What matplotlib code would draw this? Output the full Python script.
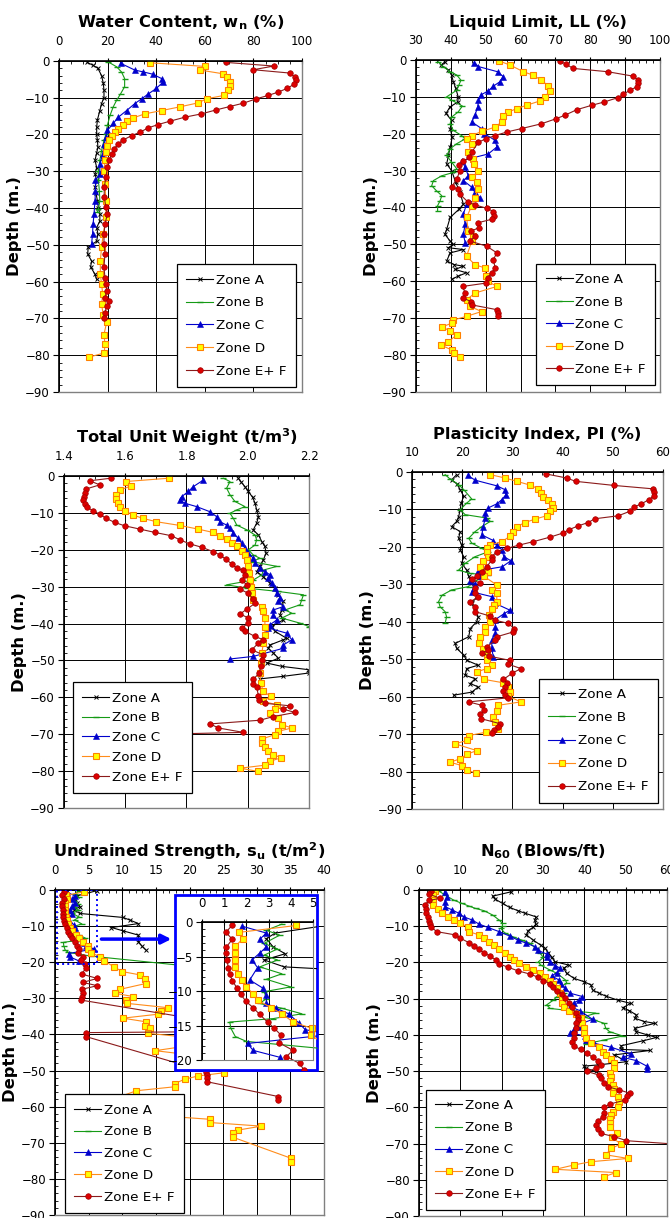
import matplotlib
matplotlib.use('Agg')
import matplotlib.pyplot as plt
from matplotlib.patches import Rectangle
from matplotlib.ticker import MultipleLocator, FormatStrFormatter

plt.rcParams['font.family'] = ['DejaVu Sans']
plt.rcParams['mathtext.fontset'] = 'dejavusans'

zones = ['Zone A', 'Zone B', 'Zone C', 'Zone D', 'Zone E+ F']

# ---- water content (depth, value) ----
wc_a = [(-0.4, 11.6), (-1.2, 14), (-2, 16), (-4, 17.5), (-6, 18.2), (-8, 18.5), (-10, 18.5), (-11.6, 17.5),
        (-13.5, 16.8), (-16, 15.8), (-18, 15.5), (-20, 15.5), (-21.6, 15.8), (-23.5, 16), (-25, 15.5),
        (-27, 14.8), (-29, 15.5), (-30.7, 14.8), (-32.5, 15.5), (-34.4, 14.8), (-36, 15.2), (-38, 15.8),
        (-40, 16.2), (-41.6, 16.8), (-43.5, 16.8), (-45.3, 15.5), (-47, 16), (-49, 15.5), (-50.7, 12),
        (-52.5, 11.8), (-54.4, 13.4), (-56, 13), (-58, 14.8), (-59.4, 15.5)]
wc_b = [(-0.3, 20.3), (-1.6, 23.7), (-3, 25.7), (-4.8, 27), (-7, 27), (-9, 25.3), (-10.7, 23.7), (-12.5, 22.3),
        (-14.8, 21), (-17.5, 19.9), (-20, 19.3), (-21.6, 18.5), (-24.4, 17.5), (-27, 16.8), (-29.8, 16.2),
        (-32.5, 16.2), (-35.3, 16.6), (-38, 16.8), (-40.3, 16.2), (-41, 15.8)]
wc_c = [(-0.7, 25.5), (-2.5, 31.2), (-3, 34.7), (-3.6, 38.5), (-4.8, 42.2), (-5.7, 42.9), (-7.5, 40), (-9, 36.7),
        (-10.3, 34), (-11.6, 31.2), (-13.5, 27.8), (-15.3, 24.4), (-17, 22.3), (-18.9, 19.9), (-20.7, 19.3),
        (-22.5, 18.6), (-25.3, 18), (-28, 16.8), (-30.7, 16.8), (-32.5, 15), (-35.3, 15), (-38, 14.8),
        (-41.6, 14.4), (-44.4, 14), (-47, 13.8), (-49.8, 13.4)]
wc_d = [(-0.5, 37.4), (-1.5, 60), (-2.5, 58), (-3.5, 67.5), (-4.5, 69), (-5.7, 70.5), (-6.9, 70.3), (-8, 69.6),
        (-9.4, 67.8), (-10.3, 60.7), (-11.4, 57.3), (-12.5, 49.7), (-13.5, 42.2), (-14.4, 35.3), (-15.5, 30.5),
        (-16.4, 27.8), (-17.5, 26.4), (-18.5, 24.4), (-19.4, 23), (-20.3, 21.9), (-21.6, 20.7), (-23, 19.9),
        (-24.8, 19.3), (-27, 18.9), (-29.8, 18.6), (-33.5, 18.9), (-38, 19.3), (-42.5, 19.3), (-47, 18.2),
        (-50.7, 17.5), (-54.4, 17), (-58, 17), (-60.7, 17.5), (-63.4, 18), (-66.2, 17.5), (-69, 18.2),
        (-71, 19.6), (-74.4, 18.5), (-77, 18.9), (-79.4, 18.6), (-80.5, 12.5)]
wc_ef = [(-0.4, 68.6), (-1.4, 88.4), (-2.4, 79.9), (-3.3, 94.9), (-4.4, 97), (-5.3, 97.7), (-6.4, 96.6),
         (-7.5, 93.8), (-8.5, 90.1), (-9.4, 86), (-10.3, 81.2), (-11.5, 75.8), (-12.4, 70.3), (-13.3, 64.8),
         (-14.4, 58.6), (-15.3, 51.8), (-16.4, 45.6), (-17.3, 40.8), (-18.2, 36.7), (-19.4, 33.3), (-20.3, 29.9),
         (-21.5, 26.4), (-22.5, 24.4), (-23.9, 22.7), (-25.3, 21.6), (-27, 20.7), (-28.9, 19.9), (-31.6, 19.3),
         (-34.4, 18.6), (-37, 18.6), (-39.8, 19.3), (-41.6, 19.9), (-44.4, 18.9), (-47, 18.5), (-49.8, 18.5),
         (-52.5, 18.9), (-56, 18.5), (-59, 18.9), (-60.7, 19.3), (-62.5, 19.6), (-64.4, 18.9), (-65.3, 20.7),
         (-66.6, 19.6), (-68.5, 18.9), (-69.8, 18.6)]

# ---- liquid limit ----
ll_a = [(-0.5, 38.3), (-1.4, 37.2), (-2.7, 39.3), (-4.1, 40.2), (-5.9, 40.7), (-7.7, 41.4), (-10, 42.1),
        (-11.4, 42), (-12.7, 39.8), (-14.5, 38.6), (-16.4, 40.2), (-18.6, 39.8), (-20.9, 40.4), (-23.6, 39.8),
        (-25.9, 39.3), (-28.2, 38.8), (-30, 40.2), (-33.2, 41.4), (-35.9, 42.6), (-39.1, 43.6), (-40.5, 42.3),
        (-42.7, 39.8), (-45.9, 38.8), (-47.3, 38.3), (-49.1, 39.8), (-50, 40.7), (-50.9, 39.3), (-51.4, 43.6),
        (-52.3, 39.8), (-54.5, 38.8), (-55.5, 41), (-55.9, 43.6), (-56.8, 41.2), (-57.7, 44.5), (-58.6, 42.1),
        (-59.5, 40.2)]
ll_b = [(-0.5, 36.4), (-1.8, 37.8), (-3.2, 39.8), (-4.1, 41.7), (-5.5, 42.9), (-6.8, 42.3), (-8.2, 41.7),
        (-10, 38.8), (-10.9, 40.2), (-12.5, 43.3), (-14.1, 42.1), (-15.5, 40.2), (-17.3, 39.8), (-19.1, 40.7),
        (-20.5, 43.1), (-21.4, 44.1), (-22.7, 41.7), (-24.1, 39.8), (-25.9, 38.8), (-27.7, 40.2), (-29.5, 41.7),
        (-30.5, 40.7), (-31.4, 37.4), (-32.7, 35), (-34.1, 34.5), (-35.5, 35.9), (-36.8, 37.4), (-38.2, 36.9),
        (-39.5, 36.2), (-40.9, 36.2)]
ll_c = [(-0.7, 46.7), (-1.8, 47.9), (-3.2, 53.4), (-4.5, 55), (-5.9, 54.1), (-7.1, 52.2), (-8.4, 50.7),
        (-9.5, 48.6), (-10.9, 47.9), (-12.7, 47.7), (-15, 46.9), (-16.8, 46), (-18.6, 48.8), (-20, 49.6),
        (-21.8, 52.7), (-23.6, 53.2), (-25.5, 50.7), (-27.3, 43.1), (-29.1, 44.1), (-31.4, 45), (-32.7, 43.6),
        (-34.5, 46), (-35.9, 46.9), (-37.3, 48.4), (-39.1, 44.5), (-41.8, 43.6), (-44.5, 44.1), (-47.3, 43.6),
        (-49.5, 44.1)]
ll_d = [(-0.3, 53.9), (-1.4, 57), (-3.2, 60.8), (-4.1, 63.5), (-5.5, 66), (-7.1, 68), (-8.4, 68.4), (-10, 67),
        (-11.1, 65.6), (-12.3, 61.7), (-13.2, 58.9), (-14.1, 56.5), (-15.3, 55), (-16.8, 54.6), (-18.2, 52.7),
        (-19.4, 48.8), (-20.5, 46), (-21.4, 44.5), (-22.7, 46), (-25, 45), (-26.8, 46.4), (-28.2, 46.7),
        (-30.2, 47.9), (-31.8, 46), (-33.2, 47.4), (-35, 47.9), (-37.3, 46.9), (-39.5, 46), (-42.7, 44.5),
        (-46.4, 45), (-47.7, 46.4), (-49.1, 46), (-53.2, 44.5), (-55.5, 46.9), (-56.4, 49.8), (-58.6, 50),
        (-60, 50.6), (-61.4, 53.2), (-63.2, 46.9), (-65, 44.5), (-66.8, 45.5), (-68.2, 48.8), (-69.5, 44.5),
        (-70.5, 40.7), (-71.4, 40.2), (-72.3, 37.6), (-73.6, 39.8), (-74.5, 41.7), (-76.4, 39.3), (-77.3, 37.2),
        (-78.6, 40.2), (-79.5, 41), (-80.5, 42.7)]
ll_ef = [(-0.3, 71.3), (-1.1, 72.9), (-2.3, 75.1), (-3.2, 85), (-4.4, 92.3), (-5.5, 93.8), (-6.2, 93.8),
         (-7.3, 93.3), (-8.2, 91.4), (-9.3, 89.5), (-10.2, 88), (-11.4, 84), (-12.3, 80.4), (-13.5, 76.1),
         (-15, 72.7), (-15.9, 70.3), (-17.3, 66), (-18.6, 60.3), (-19.5, 56.2), (-20.5, 52.7), (-21.4, 50),
         (-22.3, 47.9), (-25, 46), (-26.4, 45.3), (-27.5, 43.6), (-28.5, 42.3), (-30, 42.6), (-32.3, 41.7),
         (-34.4, 40.2), (-35, 42.1), (-36.4, 42.6), (-38.6, 45), (-39.3, 46.9), (-40.2, 50.3), (-41.1, 52.2),
         (-42.3, 52.5), (-43.2, 51.7), (-44.1, 47.9), (-45.5, 48), (-46.4, 45.8), (-47.7, 46.9), (-49.1, 45.5),
         (-50.5, 50.3), (-52.3, 53.2), (-54.1, 52.2), (-56.4, 52.7), (-57.7, 51.7), (-59.1, 50.6), (-60.5, 50),
         (-61.4, 43.4), (-63.2, 44.1), (-64.5, 43.4), (-65.5, 45.8), (-66.4, 46), (-67.7, 53.2), (-68.6, 53.6),
         (-69.5, 53.6)]

# ---- total unit weight ----
uw_a = [(-0.6, 1.969), (-1.5, 1.977), (-2.9, 1.991), (-4.2, 2.002), (-5.8, 2.016), (-7.4, 2.024), (-9.2, 2.029),
        (-11, 2.035), (-12.8, 2.029), (-14.6, 2.018), (-16, 2.035), (-17.8, 2.046), (-19.1, 2.056), (-20.9, 2.06),
        (-22.7, 2.051), (-24.5, 2.04), (-25.9, 2.029), (-27.3, 2.051), (-29.1, 2.073), (-30.4, 2.089),
        (-32.2, 2.1), (-34, 2.116), (-36.3, 2.111), (-37.6, 2.105), (-39, 2.116), (-40.8, 2.078), (-42.1, 2.089),
        (-44, 2.127), (-44.4, 2.116), (-45.8, 2.073), (-46.7, 2.067), (-48, 2.084), (-49.4, 2.1), (-50.7, 2.062),
        (-51.6, 2.111), (-52.5, 2.198), (-53.4, 2.2), (-54.3, 2.116), (-55, 2.04)]
uw_b = [(-0.6, 1.92), (-1.5, 1.942), (-3.3, 1.931), (-5.1, 1.942), (-6.9, 1.958), (-8.3, 1.991), (-9.2, 1.964),
        (-10.1, 1.942), (-11.5, 1.953), (-13.3, 1.964), (-14.6, 1.997), (-16, 2.024), (-17.3, 2.029),
        (-18.7, 2.024), (-20, 2.002), (-21.4, 2.018), (-22.3, 2.04), (-23.2, 2.013), (-24.5, 2.095),
        (-25.5, 2.051), (-26.8, 2.046), (-28.2, 2.018), (-29.5, 1.931), (-30.4, 1.997), (-31.3, 2.1),
        (-32.2, 2.182), (-33.6, 2.176), (-34.9, 2.171), (-36.3, 2.122), (-37.2, 2.144), (-38.5, 2.111),
        (-39.9, 2.171), (-40.8, 2.2)]
uw_c = [(-1.1, 1.855), (-2.9, 1.822), (-4.2, 1.806), (-5.6, 1.784), (-6.5, 1.778), (-7.4, 1.795), (-8.3, 1.833),
        (-9.7, 1.877), (-11, 1.898), (-12.4, 1.909), (-13.3, 1.931), (-14.2, 1.942), (-15.5, 1.953),
        (-16.9, 1.969), (-18.2, 1.98), (-19.6, 1.991), (-20.9, 2.002), (-22.3, 2.018), (-23.6, 2.024),
        (-25, 2.04), (-25.9, 2.056), (-26.8, 2.073), (-27.7, 2.067), (-29.1, 2.078), (-30.4, 2.089),
        (-31.8, 2.095), (-33.1, 2.106), (-34, 2.1), (-35.4, 2.116), (-36.3, 2.084), (-37.6, 2.084), (-39, 2.095),
        (-40.3, 2.073), (-41.2, 2.067), (-42.6, 2.127), (-44.4, 2.144), (-45.8, 2.116), (-46.7, 2.116),
        (-48.9, 2.018), (-49.6, 1.942)]
uw_d = [(-0.6, 1.743), (-1.5, 1.602), (-2.7, 1.62), (-3.8, 1.582), (-5.1, 1.571), (-6.3, 1.571), (-7.4, 1.576),
        (-8.5, 1.584), (-9.4, 1.598), (-10.6, 1.626), (-11.5, 1.658), (-12.4, 1.702), (-13.4, 1.778),
        (-14.4, 1.838), (-15.3, 1.887), (-16.2, 1.909), (-17.1, 1.931), (-18.1, 1.947), (-19.1, 1.966),
        (-20.2, 1.98), (-21.4, 1.991), (-22.7, 1.997), (-24.5, 2.002), (-26.4, 2.005), (-28.2, 2.007), (-30, 2.01),
        (-31.8, 2.013), (-33.6, 2.018), (-35.4, 2.046), (-36.7, 2.051), (-38.5, 2.056), (-40.8, 2.056),
        (-43, 2.056), (-45.3, 2.051), (-48, 2.046), (-50.7, 2.042), (-53.4, 2.04), (-56.1, 2.042), (-58.4, 2.051),
        (-59.7, 2.075), (-61.1, 2.051), (-62, 2.095), (-63.2, 2.089), (-64.3, 2.073), (-65.6, 2.1), (-67.4, 2.111),
        (-68.3, 2.144), (-69.2, 2.1), (-70.1, 2.089), (-71.3, 2.046), (-72.4, 2.046), (-73.5, 2.056),
        (-74.6, 2.067), (-75.5, 2.084), (-76.4, 2.109), (-77.3, 2.073), (-78.4, 2.056), (-79.2, 1.975),
        (-80.1, 2.035)]
uw_ef = [(-0.6, 1.553), (-1.3, 1.484), (-2.4, 1.517), (-3.5, 1.473), (-4.7, 1.468), (-5.8, 1.464), (-6.5, 1.462),
         (-7.6, 1.468), (-8.5, 1.475), (-9.4, 1.495), (-10.4, 1.517), (-11.5, 1.538), (-12.6, 1.566),
         (-13.5, 1.598), (-14.4, 1.648), (-15.3, 1.697), (-16.2, 1.751), (-17.3, 1.778), (-18.4, 1.811),
         (-19.3, 1.849), (-20.5, 1.887), (-21.4, 1.909), (-22.6, 1.929), (-23.8, 1.947), (-25, 1.964),
         (-25.6, 1.986), (-26.8, 1.991), (-28.2, 1.98), (-29.5, 1.997), (-30.7, 1.975), (-31.8, 2.002),
         (-33.4, 2.018), (-34.5, 2.024), (-36.1, 1.997), (-37.4, 1.975), (-38.5, 2.002), (-39.9, 2.002),
         (-41.2, 1.98), (-42.1, 1.991), (-43.5, 2.024), (-44.4, 2.051), (-45.3, 2.035), (-47.1, 2.013),
         (-48.5, 2.051), (-50, 2.046), (-51.6, 2.042), (-53.4, 2.038), (-55.1, 2.018), (-56.3, 2.018),
         (-57.2, 2.029), (-59.6, 2.035), (-60.6, 2.038), (-61.6, 2.056), (-62.3, 2.138), (-63.2, 2.116),
         (-64.1, 2.155), (-65.2, 2.084), (-66.2, 2.04), (-67.2, 1.877), (-68.3, 1.904), (-69.5, 1.986),
         (-70.4, 1.5)]

# ---- plasticity index ----
pi_a = [(-0.7, 18.9), (-2.1, 17.9), (-3.1, 18.9), (-4.7, 19.6), (-6.5, 20.3), (-8.3, 19.8), (-10.1, 19.6),
        (-11.9, 19.3), (-13.2, 18.9), (-14.6, 17.9), (-15.9, 19.6), (-17.7, 19.3), (-19.5, 19.9), (-20.8, 19.6),
        (-22.6, 20.3), (-24.4, 19.9), (-26.2, 20.9), (-27.9, 21.3), (-29.7, 21.9), (-31.5, 22.6), (-33.3, 22.9),
        (-35.1, 21.9), (-36.9, 22.6), (-38.7, 23.2), (-40, 22.9), (-41.8, 21.6), (-44, 21.3), (-45.8, 18.6),
        (-47.1, 18.9), (-48.9, 20.3), (-50.3, 20.9), (-51.6, 23.2), (-52.5, 20.9), (-54.3, 20.6), (-55.2, 22.6),
        (-56.5, 21.6), (-57.4, 23.2), (-58.8, 21.9), (-59.6, 18.3)]
pi_b = [(-0.7, 16.6), (-1.9, 17.6), (-3.4, 19.3), (-4.7, 20.3), (-7.2, 21.9), (-8.3, 20.9), (-10.1, 19.6),
        (-11.4, 20.6), (-12.3, 24.9), (-13.2, 25.6), (-14.6, 23.9), (-15.9, 22.6), (-17.7, 21.3), (-19, 21.9),
        (-20.4, 23.9), (-21.3, 25.2), (-22.6, 22.6), (-24.4, 20.6), (-26.2, 19.3), (-27.1, 21.6), (-27.5, 25.2),
        (-28.4, 23.9), (-29.7, 21.6), (-30.6, 21.3), (-31.5, 17.9), (-32.9, 16), (-34.6, 15.3), (-36, 15.6),
        (-37.3, 16.6), (-38.7, 16.9), (-40.4, 16.6)]
pi_c = [(-0.9, 21.1), (-2.2, 22.6), (-3.7, 26.9), (-4.7, 28.5), (-6.1, 28.7), (-7.4, 27.9), (-8.5, 26.9),
        (-9.6, 25.2), (-11, 24.6), (-12.3, 24.6), (-14.6, 24.2), (-16.8, 23.9), (-18.3, 26.2), (-19.5, 26.9),
        (-20.8, 27.9), (-22.6, 28.3), (-23.7, 29.7), (-25.3, 28), (-26.4, 23.2), (-27.9, 23.6), (-29, 21.6),
        (-29.9, 22.6), (-32, 21.9), (-33.3, 25.9), (-35.1, 26.6), (-36.9, 29.5), (-37.8, 28.4), (-39.4, 26.6),
        (-41.3, 26.6), (-43.1, 26.6), (-44.9, 25.9), (-47.1, 25.9), (-49.4, 26.2)]
pi_d = [(-0.7, 25.6), (-1.6, 28.5), (-2.5, 30.9), (-3.5, 33.5), (-4.5, 35.2), (-5.6, 35.8), (-6.7, 36.2),
        (-7.6, 37), (-8.5, 37.8), (-9.6, 38), (-10.5, 37.5), (-11.7, 36.8), (-12.6, 34.5), (-13.5, 32.5),
        (-14.6, 30.9), (-15.9, 30.2), (-17.2, 29.5), (-18.6, 27.9), (-19.5, 25.6), (-20.4, 24.9), (-21.5, 24.9),
        (-22.6, 25.2), (-23.9, 24.2), (-25.3, 23.6), (-26.6, 25.2), (-27.9, 24.4), (-30.2, 26.9), (-31.5, 25.9),
        (-32.4, 26.9), (-34.6, 26.9), (-35.5, 26.4), (-36.7, 25.9), (-38.2, 25.4), (-40, 25.6), (-41.3, 24.6),
        (-42.7, 24.6), (-44, 23.6), (-45.8, 23.4), (-47.4, 24.2), (-48.9, 24.9), (-50.3, 24.9), (-51.6, 26),
        (-52.5, 24.9), (-53.4, 22.9), (-55.4, 24.4), (-56.3, 28.2), (-57.4, 29.2), (-58.8, 29.5), (-59.9, 29.2),
        (-61.4, 31.7), (-62.3, 27.2), (-63.7, 26.9), (-65.3, 26.2), (-66.8, 26.6), (-68.6, 27.2), (-69.5, 24.7),
        (-70.4, 21.3), (-71.7, 20.9), (-72.6, 18.6), (-74.4, 22.9), (-75.4, 20.9), (-76.6, 19.6), (-77.5, 17.6),
        (-78.4, 19.9), (-79.6, 20.9), (-80.4, 22.7)]
pi_ef = [(-0.5, 36.6), (-1.6, 40.8), (-2.5, 42.6), (-3.6, 50.3), (-4.5, 58), (-5.4, 58.2), (-6.3, 58.2),
         (-7.4, 57.2), (-8.5, 55.7), (-9.4, 54.2), (-10.5, 53.4), (-11.7, 51.1), (-12.5, 46.4), (-13.5, 45.1),
         (-14.4, 43.1), (-15.4, 41.3), (-16.3, 40.1), (-17.4, 37.5), (-18.6, 34.2), (-19.5, 31.4), (-20.4, 28.9),
         (-21.3, 26.9), (-22.6, 25.9), (-23.5, 25.9), (-25.3, 24.9), (-26.6, 23.9), (-27.8, 22.9), (-28.7, 21.9),
         (-29.7, 23.6), (-31.1, 22.6), (-32.4, 22.5), (-33.5, 23.2), (-34.6, 21.6), (-36, 22.6), (-37.3, 22.6),
         (-38.5, 25.6), (-39.6, 26.6), (-40.4, 29.1), (-41.8, 30.4), (-42.7, 30.2), (-44, 26.9), (-44.9, 26.6),
         (-46.7, 24.9), (-47.6, 25.2), (-48.3, 23.9), (-49.2, 25.4), (-50.3, 29.5), (-51.3, 29.1), (-52.5, 31.7),
         (-53.8, 29.9), (-55.4, 28.2), (-56.3, 28.9), (-57.4, 28.5), (-58.5, 28.2), (-59.6, 28.5), (-60.3, 29.2),
         (-61.4, 21.3), (-62.3, 23.9), (-63.5, 24.4), (-64.6, 23.6), (-65.9, 23.8), (-67.2, 27.5), (-68.1, 27.2),
         (-69, 26.4), (-69.7, 25.9)]

# ---- undrained strength ----
su_a = [(-0.2, 6.2), (-1.6, 3.3), (-2.4, 2.9), (-3.6, 3.2), (-4.6, 3.75), (-5.5, 2.8), (-6.5, 3.7), (-7.6, 10.1),
        (-8.3, 11.1), (-9.3, 12.4), (-10.4, 8.4), (-11.3, 10.1), (-12.5, 12.4), (-14.3, 12.4), (-15.5, 12.9),
        (-16.6, 13.5)]
su_b = [(-0.3, 3.6), (-1.2, 2.9), (-1.9, 3.5), (-3.1, 2.8), (-3.9, 3.4), (-4.8, 2.8), (-5.5, 3.4), (-6.5, 2.6),
        (-7.5, 3.6), (-8.3, 2.9), (-9.4, 4.0), (-10.1, 2.8), (-11.1, 2.9), (-11.8, 2.6), (-12.5, 3.6),
        (-13.3, 4.5), (-14, 3.2), (-14.5, 1.25), (-15.4, 1.3), (-16.6, 1.5), (-17.3, 2.0), (-18.3, 5.3),
        (-21.5, 22)]
su_c = [(-0.6, 1.8), (-1.6, 2.9), (-2.5, 2.6), (-3.6, 2.9), (-4.5, 2.6), (-5.5, 2.25), (-6.6, 2.5), (-8.4, 2.15),
        (-9.6, 2.75), (-10.6, 2.9), (-11.8, 2.9), (-12.5, 3.35), (-13.3, 3.9), (-14.6, 4.35), (-15.6, 4.65),
        (-16.3, 5.8), (-17.6, 2.05), (-18.6, 2.3), (-19.6, 3.5)]
su_d = [(-0.5, 4.25), (-1.5, 1.66), (-2.4, 1.85), (-3.5, 1.5), (-4.5, 1.5), (-5.5, 1.5), (-6.5, 1.5), (-7.5, 1.6),
        (-8.4, 1.8), (-9.4, 2.0), (-10.4, 2.3), (-11.3, 2.5), (-12.4, 3.1), (-13.3, 3.6), (-14.5, 4.1),
        (-15.4, 4.95), (-16.4, 4.9), (-17.4, 5.4), (-18.5, 6.7), (-19.6, 7.3), (-21.2, 8.7), (-22.6, 10),
        (-23.5, 12.6), (-24.7, 13.4), (-25.9, 13.5), (-27.5, 9.7), (-28.6, 8.9), (-29.5, 11.6), (-30.5, 10.6),
        (-31.4, 10.7), (-32.6, 16.8), (-33.4, 15.8), (-34.4, 15.3), (-35.5, 10.1), (-36.5, 13.5), (-37.7, 13.4),
        (-38.3, 14.1), (-39.7, 13.9), (-40.6, 18.6), (-42, 24), (-44.5, 14.9), (-47, 26), (-50.6, 25.2),
        (-51.5, 21.3), (-52.4, 19.3), (-53.6, 17.8), (-54.5, 17.8), (-55.6, 12.1), (-61, 4), (-63.5, 23),
        (-64.4, 23), (-65.4, 30.7), (-66.5, 27.2), (-67.4, 26.5), (-68.5, 26.5), (-74.3, 35.1), (-75.3, 35.1)]
su_ef = [(-0.5, 1.35), (-1.5, 1.07), (-2.5, 1.37), (-3.6, 1.1), (-4.5, 1.1), (-5.5, 1.13), (-6.6, 1.18),
         (-7.6, 1.25), (-8.5, 1.37), (-9.5, 1.56), (-10.5, 1.75), (-11.5, 1.98), (-12.4, 2.3), (-13.4, 2.6),
         (-14.5, 2.95), (-15.4, 3.26), (-16.4, 3.56), (-17.5, 3.47), (-18.6, 4.1), (-19.5, 3.8), (-20.5, 4.4),
         (-21.5, 4.6), (-23.3, 4.0), (-24.5, 6.3), (-25.6, 4.1), (-26.5, 6.3), (-27.5, 4.0), (-28.4, 4.2),
         (-29.5, 4.0), (-30.5, 3.9), (-37, 25), (-39.2, 26), (-39.5, 4.6), (-40.6, 4.6), (-50.3, 22.5),
         (-51.2, 22.6), (-52.2, 22.6), (-53.1, 22.6), (-57.2, 33.2), (-58.2, 33.2)]

# ---- N60 ----
n60_a = [(-0.5, 22.3), (-1.7, 17.8), (-2.5, 18.4), (-3.7, 20.2), (-4.8, 21.9), (-5.7, 23.9), (-6.4, 25.6),
         (-7.4, 28.3), (-8.3, 28), (-9.4, 28.3), (-10.3, 27.6), (-11.2, 26.4), (-12.4, 26), (-13.8, 27.6),
         (-15.2, 29.4), (-16.1, 30.5), (-17.3, 31.3), (-18.6, 32.1), (-19.8, 32.9), (-20.7, 36.2), (-21.6, 35),
         (-23, 35.7), (-24.4, 37.5), (-25.3, 39.9), (-26.2, 41.6), (-27.6, 42), (-28.5, 43.6), (-29.3, 45.2),
         (-30.4, 48.1), (-31.3, 51.2), (-32.5, 49.3), (-33.3, 50.9), (-34.5, 52.6), (-35.4, 52.2), (-36.3, 54.5),
         (-36.8, 57.1), (-38.2, 52.2), (-39.1, 52.6), (-40, 55.3), (-40.7, 57.5), (-41.6, 54.3), (-43, 48.9),
         (-44, 48.9), (-44.3, 55.9), (-45.5, 47.3), (-47.4, 50.2), (-48.3, 43.2), (-48.6, 39.9), (-49.2, 40.3),
         (-50.1, 42.8), (-51.3, 44)]
n60_b = [(-0.2, 4.7), (-1.4, 6.3), (-2.8, 8.4), (-3.7, 10.4), (-4.4, 12), (-5.1, 13.7), (-5.7, 15.7), (-6.9, 17.8),
         (-8.3, 19.4), (-9.2, 20.2), (-9.9, 20.2), (-10.6, 19.8), (-11.8, 20.7), (-12.9, 22.7), (-13.8, 24.8),
         (-14.7, 26.8), (-16.1, 28.3), (-17.5, 29.3), (-18.6, 30.1), (-19.8, 28.9), (-20.7, 29.4), (-22.1, 31.7),
         (-23, 33.4), (-24.8, 35.4), (-25.8, 35.8), (-27.1, 33.4), (-28.3, 35), (-29.4, 33.4), (-30.4, 32.5),
         (-31.7, 30.9), (-32.7, 31.7), (-33.3, 36.6), (-34, 42.8), (-35, 39.9), (-35.9, 42.4), (-36.8, 44.8),
         (-38.2, 45.2), (-39.1, 46.1), (-40.3, 49.3), (-41.4, 44.8), (-42.5, 40.3)]
n60_c = [(-0.6, 6.3), (-1.8, 6.7), (-3.2, 6.3), (-4.6, 6.3), (-5.5, 8), (-6.4, 9.6), (-7.4, 10.8), (-8.3, 12.9),
         (-9.4, 14.5), (-10.3, 16.6), (-11.5, 19.4), (-12.7, 21.9), (-13.8, 23.9), (-14.7, 26), (-15.6, 28),
         (-16.7, 28.9), (-17.7, 30.9), (-18.6, 30.9), (-19.8, 31.7), (-20.9, 33), (-21.6, 34.2), (-22.8, 33.4),
         (-23.7, 32.1), (-24.8, 33.8), (-25.9, 34.3), (-27.1, 35.4), (-28.5, 36.6), (-29.4, 39.5), (-30.4, 38.7),
         (-31.1, 37.5), (-32.2, 36.6), (-33.3, 38.9), (-35.7, 42), (-36.8, 39.5), (-37.7, 38.7), (-38.5, 37.5),
         (-39.4, 36.6), (-40.3, 40.1), (-41.4, 40.3), (-42.3, 42.4), (-43.4, 46.5), (-45.3, 51.4), (-46.2, 49.3),
         (-47.1, 52.6), (-48.6, 55.1), (-49.5, 55.1)]
n60_d = [(-0.3, 3.9), (-1.4, 3.3), (-2.8, 3.4), (-4.1, 3.4), (-5.3, 4.7), (-6.3, 5.5), (-7.4, 7), (-8.3, 8.4),
         (-9.2, 10), (-10.3, 11.9), (-11.5, 12.1), (-12.4, 14.5), (-13.3, 15.7), (-14.3, 17), (-15.2, 18.2),
         (-16.3, 19.4), (-17.3, 20.7), (-18.4, 21.9), (-19.3, 23.1), (-20.2, 24.2), (-21.2, 26), (-22.1, 27.6),
         (-23, 29.3), (-24.1, 30.5), (-25, 31.7), (-25.9, 32.5), (-27.1, 33.4), (-28.5, 34.2), (-29.9, 34.6),
         (-31.1, 34.6), (-32.2, 35), (-33.3, 36.2), (-34.2, 37.9), (-35.4, 39.1), (-36.8, 39.5), (-38.2, 39.8),
         (-39.6, 39.9), (-40.9, 40.3), (-42.3, 41.6), (-43.2, 43.6), (-44.6, 44.4), (-45.5, 45.2), (-46.7, 46.5),
         (-47.8, 47.3), (-49.2, 47.3), (-50.4, 46.1), (-51.5, 46.5), (-52.6, 46.1), (-53.8, 46.9), (-55, 47.1),
         (-56.1, 46.9), (-57.2, 48.1), (-58.4, 48.5), (-59.8, 48.1), (-61.2, 46.9), (-62.1, 46.5), (-63.3, 46.1),
         (-64.4, 46.1), (-65.3, 46.1), (-67.2, 48), (-68.3, 46.6), (-70.1, 48.9), (-71.3, 46.5), (-73.1, 45.2),
         (-74.1, 50.6), (-75, 41.6), (-75.9, 37.5), (-77.1, 33), (-78, 47.7), (-79.1, 44.8)]
n60_ef = [(-0.3, 3), (-1.1, 2.4), (-2.3, 5.1), (-2.9, 2.4), (-4.1, 1.4), (-5.3, 1.8), (-6.4, 1.8), (-7.5, 2.2),
          (-8.5, 2.4), (-9.4, 2.6), (-10.3, 3), (-11.5, 4.3), (-12.4, 8.8), (-13.3, 10), (-14.5, 12), (-15.5, 13.3),
          (-16.4, 14.5), (-17.3, 15.7), (-18.2, 17.1), (-19.3, 18.6), (-20.4, 19.4), (-21.3, 21.5), (-22.3, 23.9),
          (-23.2, 26.8), (-24.1, 28.9), (-25, 30.1), (-25.9, 31.7), (-26.9, 32.5), (-27.8, 33.4), (-28.7, 34.6),
          (-29.9, 35.4), (-31.1, 36.2), (-32.4, 37.1), (-33.9, 37.9), (-35, 38.4), (-35.9, 38.4), (-36.8, 37.9),
          (-38.2, 38.1), (-39.6, 37.6), (-40.9, 37.5), (-41.9, 37.1), (-43.1, 37.5), (-44, 39.1), (-45.1, 40.7),
          (-46.2, 42), (-47.1, 43.2), (-48.3, 44), (-49.2, 42.8), (-50.1, 40.7), (-51.1, 43.6), (-52, 44),
          (-53.2, 44.8), (-54.3, 45.7), (-55.2, 48.5), (-56.1, 51), (-57, 50.4), (-58, 49.9), (-59.1, 46.1),
          (-60, 44.8), (-61.5, 44.8), (-62.6, 44.4), (-63.9, 43.2), (-64.9, 42.8), (-66.1, 43.2), (-67.2, 44),
          (-68.1, 47.3), (-69.2, 50.2), (-70.3, 64)]

wc_series = [wc_a, wc_b, wc_c, wc_d, wc_ef]
ll_series = [ll_a, ll_b, ll_c, ll_d, ll_ef]
uw_series = [uw_a, uw_b, uw_c, uw_d, uw_ef]
pi_series = [pi_a, pi_b, pi_c, pi_d, pi_ef]
su_series = [su_a, su_b, su_c, su_d, su_ef]
n60_series = [n60_a, n60_b, n60_c, n60_d, n60_ef]

zone_styles = [
    dict(color='black', marker='x', ms=3, mew=0.7, lw=0.8),
    dict(color='#159a15', marker='_', ms=4, mew=1.0, lw=0.8),
    dict(color='#0000cc', marker='^', ms=4.5, mew=0.4, lw=0.8),
    dict(color='#ff8c1a', marker='s', ms=4, mfc='#ffff00', mec='#ff8000', mew=0.8, lw=0.8),
    dict(color='#8b1a1a', marker='o', ms=4, mfc='#dd0000', mec='#a00000', mew=0.5, lw=0.8),
]

fig = plt.figure(figsize=(6.7, 12.18), dpi=100)


def style_axis(ax, xlim, xmajor, xminor, title, fmt='%d'):
    ax.set_xlim(*xlim)
    ax.set_ylim(-90, 0)
    ax.xaxis.tick_top()
    ax.xaxis.set_major_locator(MultipleLocator(xmajor))
    ax.xaxis.set_minor_locator(MultipleLocator(xminor))
    ax.xaxis.set_major_formatter(FormatStrFormatter(fmt))
    ax.yaxis.set_major_locator(MultipleLocator(10))
    ax.yaxis.set_minor_locator(MultipleLocator(2))
    ax.grid(True, which='major', color='black', lw=0.7)
    ax.set_axisbelow(True)
    ax.tick_params(axis='x', which='major', direction='inout', length=4, width=0.8, labelsize=8.5, pad=7)
    ax.tick_params(axis='y', which='major', direction='out', length=4, width=0.8, labelsize=8.5, pad=2.5)
    ax.tick_params(which='minor', direction='in', length=2.5, width=0.6)
    ax.tick_params(axis='x', which='minor', top=True, bottom=False)
    for side in ['left', 'top']:
        ax.spines[side].set_color('black')
        ax.spines[side].set_linewidth(1.2)
    for side in ['right', 'bottom']:
        ax.spines[side].set_color('#808080')
        ax.spines[side].set_linewidth(1.0)
    ax.set_title(title, fontsize=11.7, fontweight='bold', y=1.0, pad=24)
    ax.set_ylabel('Depth (m.)', fontsize=11.8, fontweight='bold', labelpad=2)


def draw_series(ax, series_list, with_labels=True):
    lines = []
    for pairs, zone, st in zip(series_list, zones, zone_styles):
        depth = [p[0] for p in pairs]
        vals = [p[1] for p in pairs]
        ln, = ax.plot(vals, depth, label=zone if with_labels else None, **st)
        lines.append(ln)
    return lines


def add_legend(ax, loc, anchor, spacing):
    leg = ax.legend(loc=loc, bbox_to_anchor=anchor, frameon=True, fancybox=False, edgecolor='black',
                    framealpha=1, fontsize=9.7, handlelength=2.0, handletextpad=0.2, borderpad=0.7,
                    labelspacing=spacing, borderaxespad=0)
    leg.get_frame().set_linewidth(0.9)


panels = [
    ([0.0881, 0.6782, 0.3627, 0.2718], (0, 100), 20, 5, r'Water Content, w$_\mathbf{n}$ (%)', '%d',
     wc_series, 'lower right', (0.975, 0.015), 0.72),
    ([0.6209, 0.6782, 0.3642, 0.2726], (30, 100), 10, 2, 'Liquid Limit, LL (%)', '%d',
     ll_series, 'lower right', (0.98, 0.02), 0.7),
    ([0.0955, 0.3366, 0.3657, 0.2726], (1.4, 2.2), 0.2, 0.05, r'Total Unit Weight (t/m$^\mathbf{3}$)', '%.1f',
     uw_series, 'lower left', (0.037, 0.045), 0.5),
    ([0.6149, 0.3358, 0.3746, 0.2767], (10, 60), 10, 2, 'Plasticity Index, PI (%)', '%d',
     pi_series, 'lower right', (0.98, 0.018), 0.75),
    ([0.0821, 0.0025, 0.4015, 0.2668], (0, 40), 5, 1, r'Undrained Strength, s$_\mathbf{u}$ (t/m$^\mathbf{2}$)', '%d',
     su_series, 'lower left', (0.037, 0.006), 0.65),
    ([0.6254, 0.0016, 0.3701, 0.2677], (0, 60), 10, 2, r'N$_\mathbf{60}$ (Blows/ft)', '%d',
     n60_series, 'lower left', (0.028, 0.018), 0.68),
]

axes = []
for rect, xlim, xmaj, xmin, title, fmt, series, loc, anchor, spacing in panels:
    ax = fig.add_axes(rect)
    style_axis(ax, xlim, xmaj, xmin, title, fmt)
    draw_series(ax, series)
    add_legend(ax, loc, anchor, spacing)
    axes.append(ax)

# zoom box, arrow and inset on the undrained strength panel
ax_su = axes[4]
zoom_box = (0.3, -20.5, 6.0, 20.5)
arrow_from = (6.9, -13.6)
arrow_to = (17.3, -13.6)
ax_su.add_patch(Rectangle(zoom_box[:2], zoom_box[2], zoom_box[3], fill=False, edgecolor='#0000ff',
                          linestyle=':', lw=1.4, zorder=6))
ax_su.annotate('', xy=arrow_to, xytext=arrow_from,
               arrowprops=dict(arrowstyle='-|>', color='#0000ff', lw=2.5, mutation_scale=14,
                               shrinkA=0, shrinkB=0), zorder=6)

frame = Rectangle((0.2612, 0.1215), 0.2119, 0.1437, transform=fig.transFigure, facecolor='white',
                  edgecolor='#0000ff', lw=2.0, zorder=3)
fig.add_artist(frame)

ax_in = fig.add_axes([0.3015, 0.1297, 0.1657, 0.1133], zorder=4)
ax_in.set_xlim(0, 5)
ax_in.set_ylim(-20, 0)
ax_in.xaxis.tick_top()
ax_in.xaxis.set_major_locator(MultipleLocator(1))
ax_in.yaxis.set_major_locator(MultipleLocator(5))
ax_in.yaxis.set_minor_locator(MultipleLocator(1))
ax_in.grid(True, which='major', color='black', lw=0.7)
ax_in.set_axisbelow(True)
ax_in.tick_params(axis='x', which='major', direction='inout', length=4, width=0.8, labelsize=8.5, pad=7)
ax_in.tick_params(axis='y', which='major', direction='out', length=4, width=0.8, labelsize=8.5, pad=2.5)
ax_in.tick_params(which='minor', direction='in', length=2.5, width=0.6)
for side in ['left', 'top']:
    ax_in.spines[side].set_linewidth(1.2)
for side in ['right', 'bottom']:
    ax_in.spines[side].set_color('#808080')
for ln in draw_series(ax_in, su_series, with_labels=False):
    ln.set_clip_path(frame)

fig.savefig('out.png', dpi=100)
